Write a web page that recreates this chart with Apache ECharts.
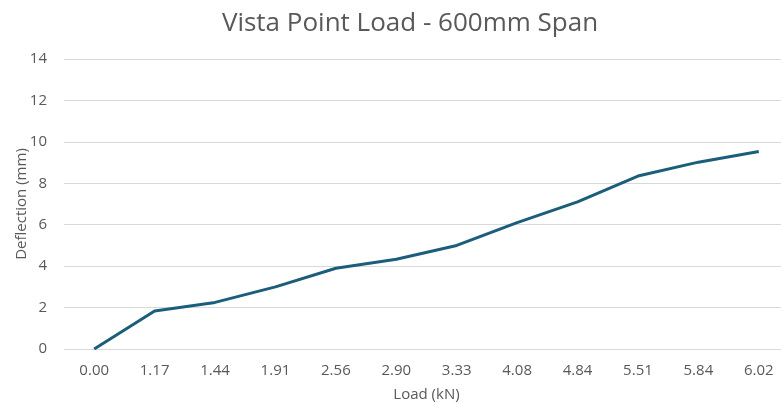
<!DOCTYPE html>
<html lang="en">
<head>
    <meta charset="UTF-8">
    <title>Vista Point Load - 600mm Span</title>
    <script src="https://cdn.jsdelivr.net/npm/echarts@6/dist/echarts.min.js"></script>
    <style>
        body { margin: 0; background: #fff; }
    </style>
</head>
<body>
    <div id="myChart" style="width: 781px;height: 403px;"></div>

    <script>
        // load steps (kN) and measured deflection (mm)
        const loads = ['0.00', '1.17', '1.44', '1.91', '2.56', '2.90', '3.33', '4.08', '4.84', '5.51', '5.84', '6.02'];
        const deflection = [0, 1.83, 2.25, 3.0, 3.9, 4.33, 5.0, 6.1, 7.1, 8.35, 9.02, 9.53];

        const textColor = '#595959';
        const font = '"Open Sans", sans-serif';

        const myChart = echarts.init(document.getElementById('myChart'));
        const option = {
            animation: false,
            title: {
                text: 'Vista Point Load - 600mm Span',
                left: 405,
                top: 6,
                textAlign: 'center',
                textStyle: { color: textColor, fontSize: 26, fontWeight: 'normal', fontFamily: font },
            },
            grid: { left: 64, top: 59, height: 290, width: 725, outerBoundsMode: 'none' },
            xAxis: {
                type: 'category',
                data: loads,
                name: 'Load (kN)',
                nameLocation: 'middle',
                nameGap: 38,
                nameMoveOverlap: false,
                nameTextStyle: { color: textColor, fontSize: 15, fontFamily: font },
                axisLine: { show: false },
                axisTick: { show: false },
                axisLabel: { color: textColor, fontSize: 15, fontFamily: font, margin: 14 },
            },
            yAxis: {
                type: 'value',
                min: 0,
                max: 14,
                interval: 2,
                name: 'Deflection (mm)',
                nameLocation: 'middle',
                nameGap: 35,
                nameMoveOverlap: false,
                nameTextStyle: { color: textColor, fontSize: 15, fontFamily: font },
                axisLabel: { color: textColor, fontSize: 15, fontFamily: font, margin: 17 },
                splitLine: { lineStyle: { color: '#d9d9d9', width: 1 } },
            },
            series: [{
                type: 'line',
                data: deflection,
                symbol: 'none',
                lineStyle: { color: '#1b5e7b', width: 3 },
            }],
        };
        myChart.setOption(option);
    </script>
</body>
</html>
